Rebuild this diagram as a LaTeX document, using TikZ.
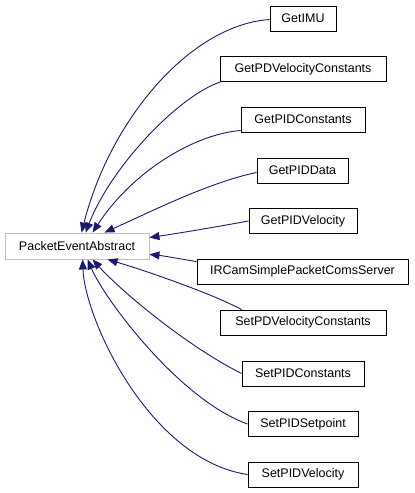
\documentclass[tikz,border=0pt]{standalone}
\usepackage{fontspec}
\setmainfont{Liberation Sans}
\usetikzlibrary{arrows.meta}
\definecolor{edgeblue}{HTML}{191970}
\definecolor{boxgray}{HTML}{BFBFBF}
\begin{document}
\begin{tikzpicture}[x=1pt,y=-1pt,
  cls/.style={draw=black, line width=0.9pt, fill=white, rectangle, inner sep=0pt,
    minimum height=25pt, font=\fontsize{12.5}{15}\selectfont},
  base/.style={draw=boxgray, line width=0.9pt, fill=white, rectangle, inner sep=0pt,
    minimum height=26pt, minimum width=144pt, font=\fontsize{12.5}{15}\selectfont},
  edge/.style={draw=edgeblue, line width=0.9pt, -{Triangle[length=10pt,width=8pt]}}]
\useasboundingbox (0,0) rectangle (415,493);
\node[base] (pea) at (77,246) {PacketEventAbstract};
\node[cls, minimum width=66pt]  (imu)  at (303,18.5) {GetIMU};
\node[cls, minimum width=166pt] (gpdv) at (303,69) {GetPDVelocityConstants};
\node[cls, minimum width=124pt] (gpc)  at (303,119.5) {GetPIDConstants};
\node[cls, minimum width=91pt]  (gpd)  at (302.5,170.5) {GetPIDData};
\node[cls, minimum width=108pt] (gpv)  at (303,221) {GetPIDVelocity};
\node[cls, minimum width=211pt] (irc)  at (302.5,271.5) {IRCamSimplePacketComsServer};
\node[cls, minimum width=166pt] (spdv) at (303,322.5) {SetPDVelocityConstants};
\node[cls, minimum width=122pt] (spc)  at (303,373.5) {SetPIDConstants};
\node[cls, minimum width=110pt] (sps)  at (303,424) {SetPIDSetpoint};
\node[cls, minimum width=110pt] (spv)  at (303,474.5) {SetPIDVelocity};

\draw[edge] ([yshift=-1pt]imu.west) .. controls (190,25) and (110,120) .. ([xshift=77pt]pea.north west);
\draw[edge] ([xshift=1pt]gpdv.south west) .. controls (180,95) and (112,165) .. ([xshift=81pt]pea.north west);
\draw[edge] ([yshift=2pt]gpc.south west) .. controls (190,135) and (130,175) .. ([xshift=88pt]pea.north west);
\draw[edge] ([yshift=-2pt]gpd.west) .. controls (210,182) and (150,212) .. ([xshift=100pt]pea.north west);
\draw[edge] (gpv.west) .. controls (210,228) and (180,233) .. ([yshift=-5pt]pea.north east);
\draw[edge] ([yshift=10pt]irc.west) .. controls (180,259) and (165,256) .. ([yshift=5pt]pea.south east);
\draw[edge] ([xshift=22pt]spdv.north west) .. controls (215,295) and (150,272) .. ([xshift=103pt]pea.south west);
\draw[edge] (spc.west) .. controls (185,345) and (120,290) .. ([xshift=88pt]pea.south west);
\draw[edge] (sps.west) .. controls (180,400) and (105,300) .. ([xshift=83pt]pea.south west);
\draw[edge] (spv.west) .. controls (150,460) and (85,320) .. ([xshift=78pt]pea.south west);
\end{tikzpicture}
\end{document}
